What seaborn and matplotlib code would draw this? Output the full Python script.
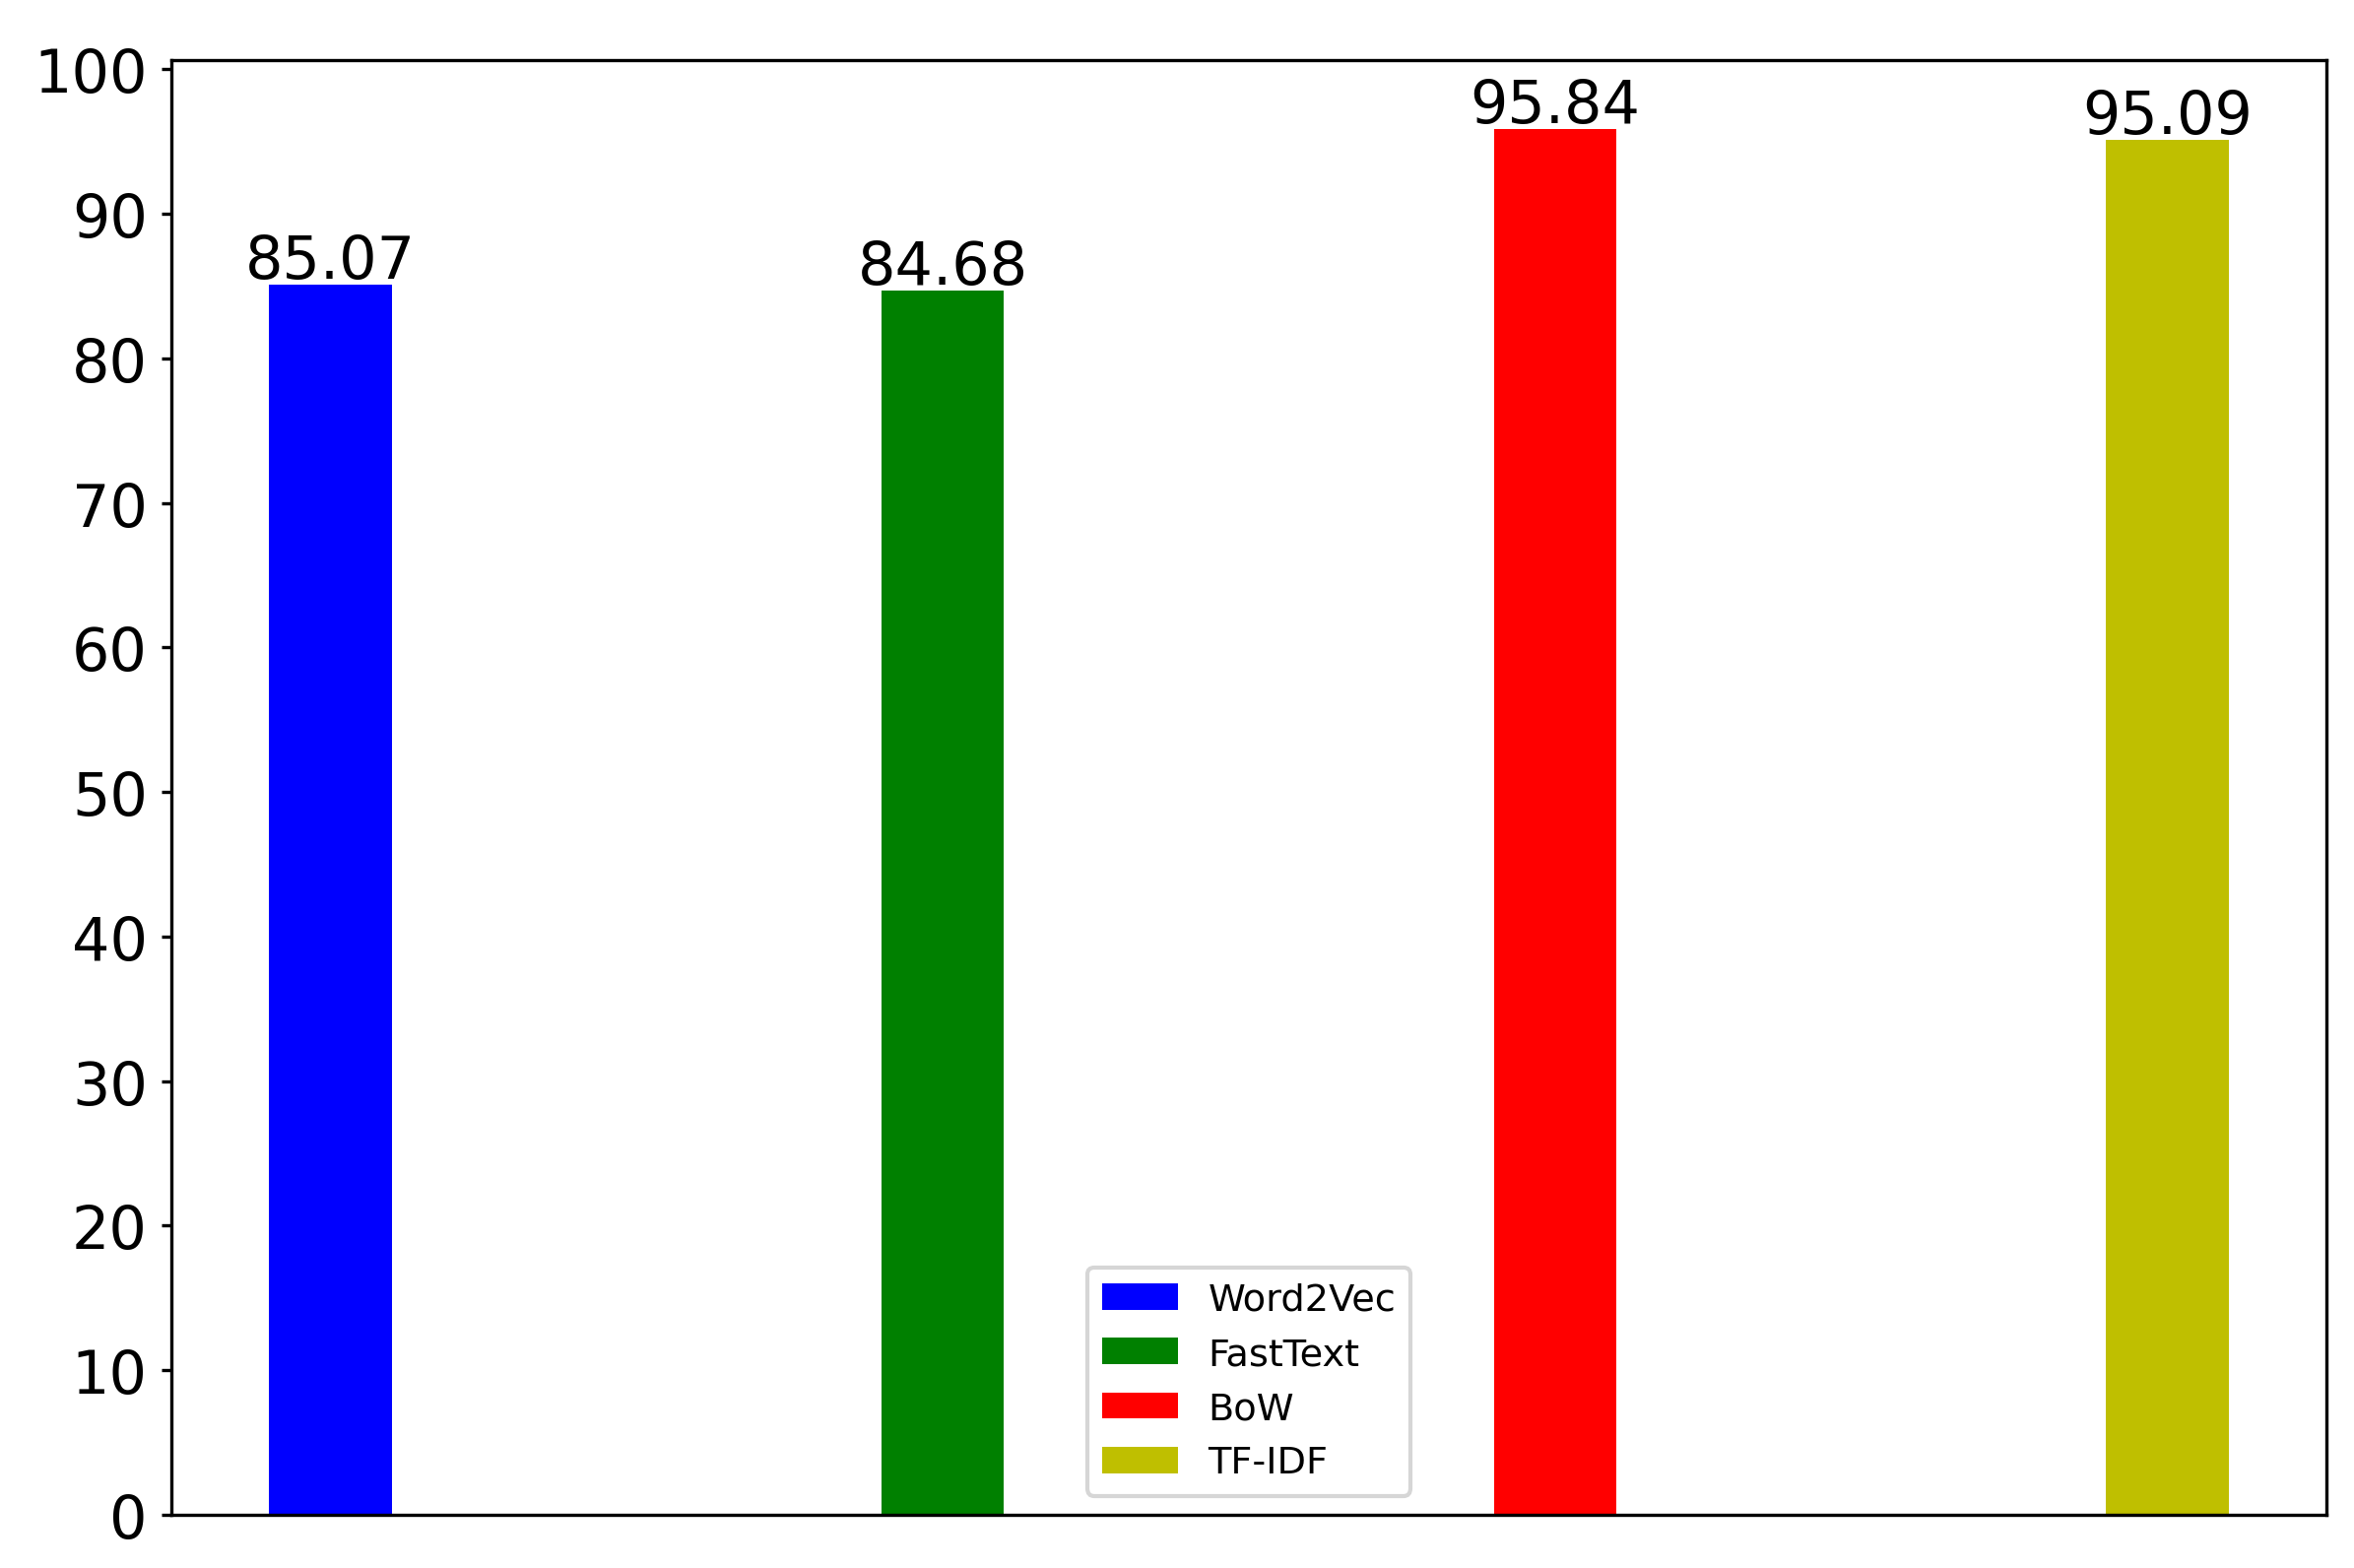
import matplotlib
matplotlib.use("Agg")
import matplotlib.pyplot as plt
import seaborn as sns
import pandas as pd

models = ["Word2Vec", "FastText", "BoW", "TF-IDF"]
scores = [85.07, 84.68, 95.84, 95.09]
colors = ["#0000ff", "#008000", "#ff0000", "#bfbf00"]

df = pd.DataFrame({"model": models, "score": scores})

fig = plt.figure(figsize=(2390 / 300, 1593 / 300), dpi=300)
ax = fig.add_axes([174 / 2390, 54 / 1593, (2362 - 174) / 2390, (1539 - 62) / 1593])

sns.barplot(data=df, x="model", y="score", hue="model", palette=colors,
            width=0.2, dodge=False, saturation=1, legend=True, ax=ax)

for i, v in enumerate(scores):
    ax.annotate(f"{v:.2f}", (i, v), xytext=(0, 1.7), textcoords="offset points",
                ha="center", va="baseline", fontsize=14.5)

ax.set_xlim(-0.26, 3.26)
ax.set_ylim(0, 100.63)
ax.set_yticks(range(0, 101, 10))
ax.set_xticks([])
ax.set_xlabel("")
ax.set_ylabel("")
ax.tick_params(axis="y", labelsize=14.5, length=2.3, width=0.8, pad=3.5)
for s in ax.spines.values():
    s.set_linewidth(0.8)

handles, labels = ax.get_legend_handles_labels()
ax.legend(handles, labels, loc="lower center", fontsize=9.2)

fig.savefig("out.png", dpi=300)
